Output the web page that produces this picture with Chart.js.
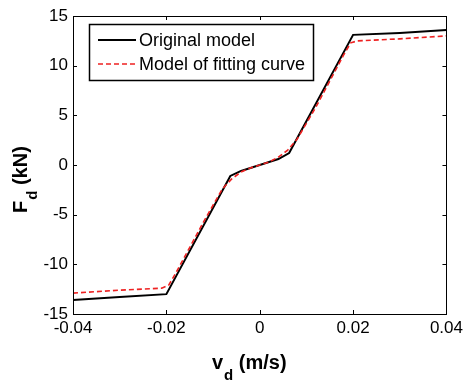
<!DOCTYPE html>
<html>
<head>
<meta charset="utf-8">
<script src="https://cdn.jsdelivr.net/npm/chart.js@4.4.0/dist/chart.umd.min.js"></script>
<style>
    html, body { margin: 0; padding: 0; background: #fff; }
</style>
</head>
<body>
<canvas id="myChart" width="467" height="382"></canvas>
<script>
// values (v_d in m/s, F_d in kN)
const originalX = [-0.04, -0.03, -0.02, -0.0063, -0.004, 0, 0.004, 0.0063, 0.02, 0.03, 0.04];
const originalY = [-13.6, -13.3, -13.0, -1.1, -0.6, 0, 0.6, 1.2, 13.1, 13.3, 13.6];

const fittingX = [-0.04, -0.03, -0.021, -0.0195, -0.018, -0.012, -0.008, -0.006, -0.004, -0.002, 0, 0.002, 0.004, 0.006, 0.008, 0.012, 0.018, 0.0195, 0.021, 0.03, 0.04];
const fittingY = [-12.9, -12.6, -12.4, -12.1, -10.9, -5.7, -2.4, -1.4, -0.7, -0.3, 0, 0.3, 0.8, 1.5, 2.6, 5.8, 11.1, 12.3, 12.5, 12.7, 13.0];

const xTicks = [-0.04, -0.02, 0, 0.02, 0.04];
const yTicks = [-15, -10, -5, 0, 5, 10, 15];

const seriesNames = ['Original model', 'Model of fitting curve'];

const FONT = 'Liberation Sans, Arial, sans-serif';

function toPoints(xs, ys) {
    return xs.map((x, i) => ({ x: x, y: ys[i] }));
}

// frame, inward ticks, legend box and the axis titles with subscripts
const decorPlugin = {
    id: 'decor',
    afterDraw(chart) {
        const c = chart.ctx;
        const a = chart.chartArea;
        const sx = chart.scales.x, sy = chart.scales.y;
        c.save();
        c.strokeStyle = '#000';
        c.lineWidth = 1;
        c.strokeRect(Math.round(a.left) + 0.5, Math.round(a.top) + 0.5, Math.round(a.right - a.left), Math.round(a.bottom - a.top));

        c.beginPath();
        xTicks.forEach(v => {
            const px = Math.round(sx.getPixelForValue(v)) + 0.5;
            c.moveTo(px, a.bottom); c.lineTo(px, a.bottom - 4);
            c.moveTo(px, a.top); c.lineTo(px, a.top + 4);
        });
        yTicks.forEach(v => {
            const py = Math.round(sy.getPixelForValue(v)) + 0.5;
            c.moveTo(a.left, py); c.lineTo(a.left + 4, py);
            c.moveTo(a.right, py); c.lineTo(a.right - 4, py);
        });
        c.stroke();

        // legend
        c.fillStyle = '#fff';
        c.fillRect(89, 24, 225, 57);
        c.lineWidth = 1.5;
        c.strokeRect(89.5, 24.5, 224, 56);
        c.font = '18px ' + FONT;
        c.textBaseline = 'middle';
        c.textAlign = 'left';
        chart.data.datasets.forEach((ds, i) => {
            const y = 40 + i * 24;
            c.beginPath();
            c.strokeStyle = ds.borderColor;
            c.lineWidth = ds.borderWidth;
            c.setLineDash(ds.borderDash || []);
            c.moveTo(98, y); c.lineTo(136, y);
            c.stroke();
            c.setLineDash([]);
            c.fillStyle = '#000';
            c.fillText(ds.label, 139, y + 1);
        });

        // x title: v_d (m/s)
        c.fillStyle = '#000';
        c.textBaseline = 'alphabetic';
        c.font = 'bold 20px ' + FONT;
        let x = 212;
        c.fillText('v', x, 369);
        x += c.measureText('v').width + 1;
        c.font = 'bold 15px ' + FONT;
        c.fillText('d', x, 380);
        x += c.measureText('d').width;
        c.font = 'bold 20px ' + FONT;
        c.fillText(' (m/s)', x, 369);

        // y title: F_d (kN), rotated
        c.translate(27, 213);
        c.rotate(-Math.PI / 2);
        x = 0;
        c.fillText('F', x, 0);
        x += c.measureText('F').width + 1;
        c.font = 'bold 15px ' + FONT;
        c.fillText('d', x, 10);
        x += c.measureText('d').width;
        c.font = 'bold 20px ' + FONT;
        c.fillText(' (kN)', x, 0);
        c.restore();
    }
};

const ctx = document.getElementById('myChart');

const forceChart = new Chart(ctx, {
    type: 'scatter',
    data: {
        datasets: [{
            label: seriesNames[0],
            data: toPoints(originalX, originalY),
            showLine: true,
            borderColor: '#000000',
            borderWidth: 2,
            pointRadius: 0,
            tension: 0,
            order: 1
        }, {
            label: seriesNames[1],
            data: toPoints(fittingX, fittingY),
            showLine: true,
            borderColor: '#ee2222',
            borderWidth: 1.6,
            borderDash: [5, 3],
            pointRadius: 0,
            tension: 0,
            order: 0
        }]
    },
    options: {
        responsive: false,
        animation: false,
        devicePixelRatio: 1,
        layout: { padding: { top: 16, right: 19, left: 0, bottom: 0 } },
        plugins: {
            legend: { display: false },
            tooltip: { enabled: false }
        },
        scales: {
            x: {
                type: 'linear',
                min: -0.04,
                max: 0.04,
                afterBuildTicks: scale => { scale.ticks = xTicks.map(v => ({ value: v })); },
                afterFit: scale => { scale.height = 68; },
                grid: { display: false, drawTicks: false },
                border: { display: false },
                ticks: {
                    color: '#000',
                    padding: 4,
                    maxRotation: 0,
                    font: { family: FONT, size: 17 },
                    callback: v => String(Number(v.toFixed(2)))
                }
            },
            y: {
                min: -15,
                max: 15,
                afterBuildTicks: scale => { scale.ticks = yTicks.map(v => ({ value: v })); },
                afterFit: scale => { scale.width = 73; },
                grid: { display: false, drawTicks: false },
                border: { display: false },
                ticks: {
                    color: '#000',
                    padding: 5,
                    font: { family: FONT, size: 17 }
                }
            }
        }
    },
    plugins: [decorPlugin]
});
</script>
</body>
</html>
